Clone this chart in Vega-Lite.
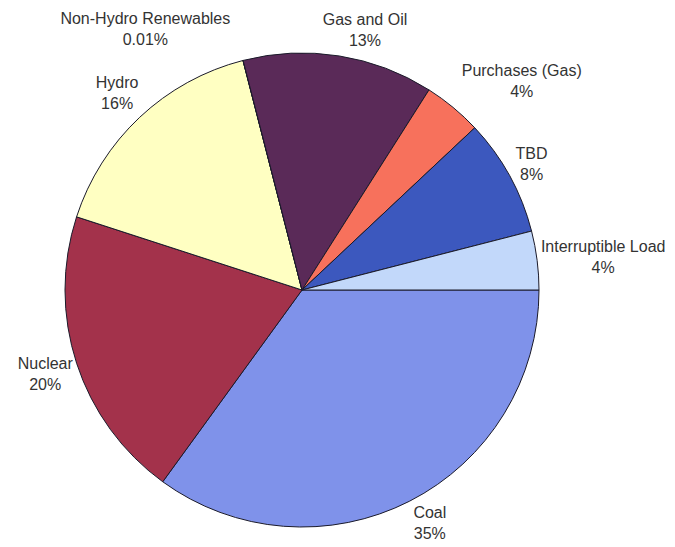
{
  "$schema": "https://vega.github.io/schema/vega-lite/v6.json",
  "width": 675,
  "height": 547,
  "autosize": {"type": "none"},
  "padding": 0,
  "background": "white",
  "config": {"view": {"stroke": null}, "text": {"font": "Liberation Sans", "fontSize": 16, "fill": "#333333", "lineBreak": "\n", "lineHeight": 21, "align": "center", "baseline": "middle", "dy": -10}},
  "data": {
    "values": [
      {"order": 1, "cat": "Coal", "value": 35, "label": "Coal\n35%"},
      {"order": 2, "cat": "Nuclear", "value": 20, "label": "Nuclear\n20%"},
      {"order": 3, "cat": "Hydro", "value": 16, "label": "Hydro\n16%"},
      {"order": 4, "cat": "Non-Hydro Renewables", "value": 0.01, "label": "Non-Hydro Renewables\n0.01%"},
      {"order": 5, "cat": "Gas and Oil", "value": 13, "label": "Gas and Oil\n13%"},
      {"order": 6, "cat": "Purchases (Gas)", "value": 4, "label": "Purchases (Gas)\n4%"},
      {"order": 7, "cat": "TBD", "value": 8, "label": "TBD\n8%"},
      {"order": 8, "cat": "Interruptible Load", "value": 4, "label": "Interruptible Load\n4%"}
    ]
  },
  "encoding": {
    "theta": {"field": "value", "type": "quantitative", "stack": true, "scale": {"range": [1.5708, 7.854]}},
    "order": {"field": "order", "type": "quantitative", "sort": "ascending"}
  },
  "layer": [
    {
      "mark": {"type": "arc", "outerRadius": 237, "x": 302, "y": 290, "stroke": "#1a1a2a", "strokeWidth": 1},
      "encoding": {
        "color": {
          "field": "cat", "type": "nominal", "legend": null,
          "scale": {
            "domain": ["Coal", "Nuclear", "Hydro", "Non-Hydro Renewables", "Gas and Oil", "Purchases (Gas)", "TBD", "Interruptible Load"],
            "range": ["#7F92EA", "#A3324B", "#FFFFC2", "#3a8a3a", "#5A2A58", "#F7715C", "#3C58BE", "#C2D8FA"]
          }
        }
      }
    },
    {
      "mark": {"type": "text", "x": 302, "y": 290, "radius": 270},
      "encoding": {
        "text": {"condition": {"test": "indexof(['Nuclear','Hydro'], datum.cat) >= 0", "field": "label"}, "value": ""}
      }
    },
    {
      "mark": {"type": "text", "x": 302, "y": 290, "radius": 266, "thetaOffset": -0.03},
      "encoding": {
        "text": {"condition": {"test": "datum.cat === 'Coal'", "field": "label"}, "value": ""}
      }
    },
    {
      "mark": {"type": "text", "x": 302, "y": 290, "radius": 262},
      "encoding": {
        "text": {"condition": {"test": "datum.cat === 'TBD'", "field": "label"}, "value": ""}
      }
    },
    {
      "mark": {"type": "text", "x": 302, "y": 290, "radius": 268, "thetaOffset": 0.08},
      "encoding": {
        "text": {"condition": {"test": "datum.cat === 'Gas and Oil'", "field": "label"}, "value": ""}
      }
    },
    {
      "mark": {"type": "text", "x": 302, "y": 290, "radius": 303, "thetaOffset": 0.12},
      "encoding": {
        "text": {"condition": {"test": "datum.cat === 'Purchases (Gas)'", "field": "label"}, "value": ""}
      }
    },
    {
      "mark": {"type": "text", "x": 302, "y": 290, "radius": 303, "thetaOffset": 0.016},
      "encoding": {
        "text": {"condition": {"test": "datum.cat === 'Interruptible Load'", "field": "label"}, "value": ""}
      }
    },
    {
      "mark": {"type": "text", "x": 302, "y": 290, "radius": 304, "thetaOffset": -0.29},
      "encoding": {
        "text": {"condition": {"test": "datum.cat === 'Non-Hydro Renewables'", "field": "label"}, "value": ""}
      }
    }
  ]
}
